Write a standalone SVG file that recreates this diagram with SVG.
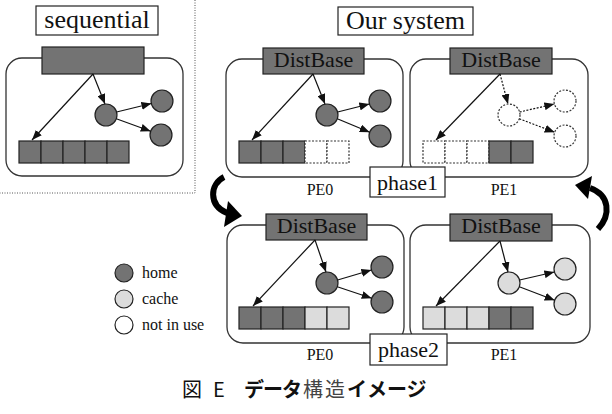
<svg xmlns="http://www.w3.org/2000/svg" width="612" height="414" viewBox="0 0 612 414" font-family="'Liberation Serif','Times New Roman','DejaVu Serif',serif">
<defs>
<style>
.box{fill:#fff;stroke:#333;stroke-width:1.3}
.lbl{fill:#fff;stroke:#222;stroke-width:1.2}
.hdr{fill:#737373;stroke:#222;stroke-width:1.2}
.home{fill:#737373;stroke:#222;stroke-width:1.2}
.cache{fill:#dcdcdc;stroke:#222;stroke-width:1.2}
.none{fill:#fff;stroke:#333;stroke-width:1.2;stroke-dasharray:2 1.5}
.ln{stroke:#111;stroke-width:1.2;fill:none;marker-end:url(#ah)}
.dl{stroke:#111;stroke-width:1.2;fill:none;stroke-dasharray:2 1.5;marker-end:url(#ah)}
.t{fill:#111}
.big{font-size:26px}
.mid{font-size:22px}
.sm{font-size:16px}
.curve{fill:none;stroke:#000;stroke-width:6}
</style>
<marker id="ah" markerUnits="userSpaceOnUse" markerWidth="10" markerHeight="8" refX="10" refY="4" orient="auto">
<path d="M0,0 L10,4 L0,8 z" fill="#111"/>
</marker>
</defs>
<rect width="612" height="414" fill="#fff"/>

<!-- dotted separator -->
<path d="M195,0 V193 H0" fill="none" stroke="#555" stroke-width="1" stroke-dasharray="1 1.5"/>

<!-- titles -->
<g id="title-seq">
<rect class="lbl" x="36" y="6" width="122" height="29"/>
<text class="t big" x="97" y="28" text-anchor="middle" font-family="'Liberation Serif',serif">sequential</text>
</g>
<g id="title-our">
<rect class="lbl" x="338" y="7" width="135" height="28"/>
<text class="t big" x="405.5" y="29" text-anchor="middle" font-family="'Liberation Serif',serif">Our system</text>
</g>

<!-- sequential -->
<g id="seq" transform="translate(6,58)">
<rect class="box" x="0" y="0" width="177" height="118" rx="16"/>
<rect class="hdr" x="36" y="-11" width="102" height="27"/>
<rect class="home" x="13" y="83" width="22" height="22"/>
<rect class="home" x="35" y="83" width="22" height="22"/>
<rect class="home" x="57" y="83" width="22" height="22"/>
<rect class="home" x="79" y="83" width="22" height="22"/>
<rect class="home" x="101" y="83" width="22" height="22"/>
<circle class="home" cx="100" cy="57" r="11"/>
<circle class="home" cx="156" cy="43" r="11"/>
<circle class="home" cx="155" cy="77" r="11"/>
</g>

<!-- PE0 phase1 -->
<g id="pe0-p1" transform="translate(226,59)">
<rect class="box" x="0" y="0" width="177" height="118" rx="16"/>
<rect class="hdr" x="37" y="-11" width="101" height="26"/>
<text class="t mid" x="87.5" y="8" text-anchor="middle" font-family="'Liberation Serif',serif">DistBase</text>
<rect class="home" x="13" y="82" width="22" height="22"/>
<rect class="home" x="35" y="82" width="22" height="22"/>
<rect class="home" x="57" y="82" width="22" height="22"/>
<rect class="none" x="79" y="82" width="22" height="22"/>
<rect class="none" x="101" y="82" width="22" height="22"/>
<circle class="home" cx="101" cy="56" r="11"/>
<circle class="home" cx="154" cy="42" r="11"/>
<circle class="home" cx="154" cy="77" r="11"/>
</g>

<!-- PE1 phase1 -->
<g id="pe1-p1" transform="translate(410,59)">
<rect class="box" x="0" y="0" width="178" height="118" rx="16"/>
<rect class="hdr" x="40" y="-11" width="102" height="26"/>
<text class="t mid" x="91" y="8" text-anchor="middle" font-family="'Liberation Serif',serif">DistBase</text>
<rect class="none" x="13" y="82" width="22" height="22"/>
<rect class="none" x="35" y="82" width="22" height="22"/>
<rect class="none" x="57" y="82" width="22" height="22"/>
<rect class="home" x="79" y="82" width="22" height="22"/>
<rect class="home" x="101" y="82" width="22" height="22"/>
<circle class="none" cx="99" cy="56" r="11"/>
<circle class="none" cx="155" cy="42" r="11"/>
<circle class="none" cx="155" cy="77" r="11"/>
</g>

<!-- PE0 phase2 -->
<g id="pe0-p2" transform="translate(227,225)">
<rect class="box" x="0" y="0" width="177" height="118" rx="16"/>
<rect class="hdr" x="39" y="-11" width="101" height="26"/>
<text class="t mid" x="89.5" y="8" text-anchor="middle" font-family="'Liberation Serif',serif">DistBase</text>
<rect class="home" x="12" y="82" width="22" height="22"/>
<rect class="home" x="34" y="82" width="22" height="22"/>
<rect class="home" x="56" y="82" width="22" height="22"/>
<rect class="cache" x="78" y="82" width="22" height="22"/>
<rect class="cache" x="100" y="82" width="22" height="22"/>
<circle class="home" cx="100" cy="58" r="11"/>
<circle class="home" cx="155" cy="42" r="11"/>
<circle class="home" cx="155" cy="77" r="11"/>
</g>

<!-- PE1 phase2 -->
<g id="pe1-p2" transform="translate(410,225)">
<rect class="box" x="0" y="0" width="180" height="118" rx="16"/>
<rect class="hdr" x="40" y="-11" width="102" height="27"/>
<text class="t mid" x="91" y="8" text-anchor="middle" font-family="'Liberation Serif',serif">DistBase</text>
<rect class="cache" x="13" y="82" width="22" height="22"/>
<rect class="cache" x="35" y="82" width="22" height="22"/>
<rect class="cache" x="57" y="82" width="22" height="22"/>
<rect class="home" x="79" y="82" width="22" height="22"/>
<rect class="home" x="101" y="82" width="22" height="22"/>
<circle class="cache" cx="99" cy="58" r="11"/>
<circle class="cache" cx="155" cy="44" r="11"/>
<circle class="cache" cx="155" cy="79" r="11"/>
</g>

<!-- connectors -->
<g id="connectors">
<g transform="translate(6,58)">
<path class="ln" d="M87,16 L26,82"/>
<path class="ln" d="M87,16 L99,46"/>
<path class="ln" d="M110.6,54 L145.4,45.5"/>
<path class="ln" d="M110.3,60.8 L144.7,73.2"/>
</g>
<g transform="translate(226,59)">
<path class="ln" d="M87,15 L26,81"/>
<path class="ln" d="M87,15 L99,45"/>
<path class="ln" d="M111.6,53 L143.4,45"/>
<path class="ln" d="M111.3,59.8 L143.7,73.2"/>
</g>
<g transform="translate(410,59)">
<path class="ln" d="M90,15 L26,81"/>
<path class="dl" d="M90,15 L98,45"/>
<path class="dl" d="M109.6,53 L144.4,45"/>
<path class="dl" d="M109.3,59.8 L144.7,73.2"/>
</g>
<g transform="translate(227,225)">
<path class="ln" d="M88,15 L26,81"/>
<path class="ln" d="M88,15 L99,47"/>
<path class="ln" d="M110.6,55 L144.4,45"/>
<path class="ln" d="M110.3,61.8 L144.7,73.2"/>
</g>
<g transform="translate(410,225)">
<path class="ln" d="M90,16 L26,81"/>
<path class="ln" d="M90,16 L98,47"/>
<path class="ln" d="M109.6,55 L144.4,47"/>
<path class="ln" d="M109.3,61.8 L144.7,75.2"/>
</g>
</g>

<!-- phase labels and PE labels -->
<g id="phase1">
<rect class="lbl" x="370" y="167" width="75" height="30"/>
<text class="t mid" x="407.5" y="190" text-anchor="middle" font-family="'Liberation Serif',serif">phase1</text>
</g>
<g id="phase2">
<rect class="lbl" x="370" y="334" width="77" height="31"/>
<text class="t mid" x="408.5" y="357" text-anchor="middle" font-family="'Liberation Serif',serif">phase2</text>
</g>
<g font-family="'Liberation Serif',serif">
<text class="t sm" x="320" y="195" text-anchor="middle">PE0</text>
<text class="t sm" x="504" y="195" text-anchor="middle">PE1</text>
<text class="t sm" x="320" y="360" text-anchor="middle">PE0</text>
<text class="t sm" x="504" y="360" text-anchor="middle">PE1</text>
</g>

<!-- curved transition arrows -->
<g id="curve-left">
<path class="curve" d="M224,177 C210,184 208,205 227,213"/>
<polygon points="242,216 228,201 224,227" fill="#000"/>
</g>
<g id="curve-right">
<path class="curve" d="M598,229 C611,215 610,195 590,188"/>
<polygon points="575,185 592,176 588,199" fill="#000"/>
</g>

<!-- legend -->
<g id="legend" font-family="'Liberation Serif',serif">
<circle class="home" cx="124" cy="273" r="9"/>
<circle class="cache" cx="124" cy="299" r="9"/>
<circle cx="124" cy="325" r="9" fill="#fff" stroke="#222" stroke-width="1.2"/>
<text class="t sm" x="142" y="278">home</text>
<text class="t sm" x="142" y="304">cache</text>
<text class="t sm" x="142" y="330">not in use</text>
</g>

<!-- caption -->
<text y="397" font-family="'Noto Sans CJK JP',sans-serif" font-size="20" fill="#111"><tspan x="182">図</tspan><tspan x="213">E</tspan><tspan x="244" font-weight="bold" letter-spacing="-1">データ</tspan><tspan x="303" fill="#444" letter-spacing="2">構造</tspan><tspan x="347" font-weight="bold">イメージ</tspan></text>
</svg>
